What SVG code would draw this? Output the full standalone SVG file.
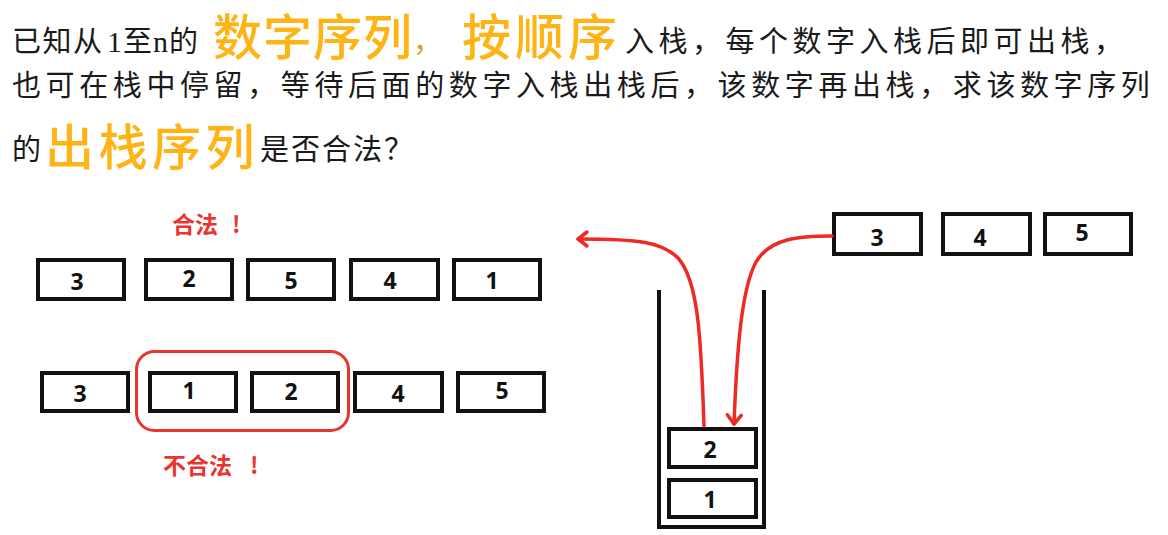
<svg xmlns="http://www.w3.org/2000/svg" width="1168" height="535" viewBox="0 0 1168 535">
<style>
.t{font-family:"Noto Sans CJK SC","Noto Sans",sans-serif;font-size:29px;fill:#1a1a1a}
.o{font-family:"Noto Sans CJK SC","Noto Sans",sans-serif;font-size:49px;fill:#ffb416;font-weight:500}
.s{font-family:"Liberation Serif",serif;font-size:30px;fill:#1a1a1a}
.r{font-family:"Noto Sans CJK SC","Noto Sans",sans-serif;font-size:23px;fill:#e8352e;font-weight:bold}
.box{fill:#fff;stroke:#111;stroke-width:4}
.n{font-family:"Noto Sans","DejaVu Sans",sans-serif;font-size:23px;font-weight:bold;fill:#111;text-anchor:middle}
.arr{fill:none;stroke:#ee2a24;stroke-width:3.5;stroke-linecap:round}
.wall{fill:none;stroke:#111;stroke-width:4}
</style>
<defs>
<marker id="ah" markerUnits="userSpaceOnUse" markerWidth="20" markerHeight="20" refX="0" refY="0" viewBox="-12 -10 14 20" orient="auto">
<path d="M-9,-7 L0,0 L-9,7" fill="none" stroke="#ee2a24" stroke-width="3.5" stroke-linecap="round" stroke-linejoin="round"/>
</marker>
</defs>
<rect width="1168" height="535" fill="#fff"/>
<g id="title">
<text class="t" x="12" y="52" letter-spacing="1.5">已知从</text>
<text class="s" x="107" y="52">1</text>
<text class="t" x="123" y="52">至</text>
<text class="s" x="153" y="52">n</text>
<text class="t" x="169" y="52">的</text>
<text class="o" x="213" y="55" letter-spacing="1">数字序列</text>
<text class="t" x="413" y="52" style="fill:#d9a21f">，</text>
<text class="o" x="462" y="55" letter-spacing="4">按顺序</text>
<text class="t" x="625" y="52" letter-spacing="4.5">入栈，每个数字入栈后即可出栈，</text>
<text class="t" x="12" y="96" letter-spacing="4.6">也可在栈中停留，等待后面的数字入栈出栈后，该数字再出栈，求该数字序列</text>
<text class="t" x="12" y="160">的</text>
<text class="o" x="45" y="165" letter-spacing="4.5">出栈序列</text>
<text class="t" x="260" y="160" letter-spacing="2">是否合法？</text>
</g>
<g id="legal">
<text class="r" x="172" y="233">合法</text><text class="r" x="232" y="233">!</text>
<rect class="box" x="38" y="260" width="86" height="39"/><text class="n" x="77" y="290">3</text>
<rect class="box" x="146" y="260" width="86" height="39"/><text class="n" x="189" y="287">2</text>
<rect class="box" x="248" y="260" width="86" height="39"/><text class="n" x="291" y="289">5</text>
<rect class="box" x="351" y="260" width="87" height="39"/><text class="n" x="390" y="289">4</text>
<rect class="box" x="454" y="260" width="86" height="39"/><text class="n" x="492" y="289">1</text>
</g>
<g id="illegal">
<rect class="box" x="42" y="373" width="86" height="38"/><text class="n" x="80" y="402">3</text>
<rect class="box" x="150" y="373" width="86" height="38"/><text class="n" x="189" y="399">1</text>
<rect class="box" x="252" y="373" width="86" height="38"/><text class="n" x="291" y="400">2</text>
<rect class="box" x="355" y="373" width="87" height="38"/><text class="n" x="398" y="402">4</text>
<rect class="box" x="458" y="373" width="86" height="38"/><text class="n" x="502" y="399">5</text>
<rect x="136.5" y="351.5" width="212" height="79" rx="18" fill="none" stroke="#e8352e" stroke-width="3"/>
<text class="r" x="163" y="474" font-size="24">不合法</text><text class="r" x="250" y="474" font-size="24">!</text>
</g>
<g id="stack">
<path class="wall" d="M659,290 V527 H764 V290"/>
<rect class="box" x="669" y="429" width="87" height="38"/><text class="n" x="710" y="458">2</text>
<rect class="box" x="669" y="480" width="87" height="37"/><text class="n" x="710" y="508">1</text>
</g>
<g id="queue">
<rect class="box" x="834" y="214" width="87" height="40"/><text class="n" x="877" y="246">3</text>
<rect class="box" x="943" y="214" width="87" height="40"/><text class="n" x="980" y="246">4</text>
<rect class="box" x="1045" y="214" width="86" height="40"/><text class="n" x="1082" y="241">5</text>
</g>
<g id="connectors">
<path class="arr" d="M704,426 C701,335 698,280 678,258 C662,242 640,239 578,239" marker-end="url(#ah)"/>
<path class="arr" d="M832,236 C800,236 770,238 756,262 C742,288 737,345 734,424" marker-end="url(#ah)"/>
</g>
</svg>
